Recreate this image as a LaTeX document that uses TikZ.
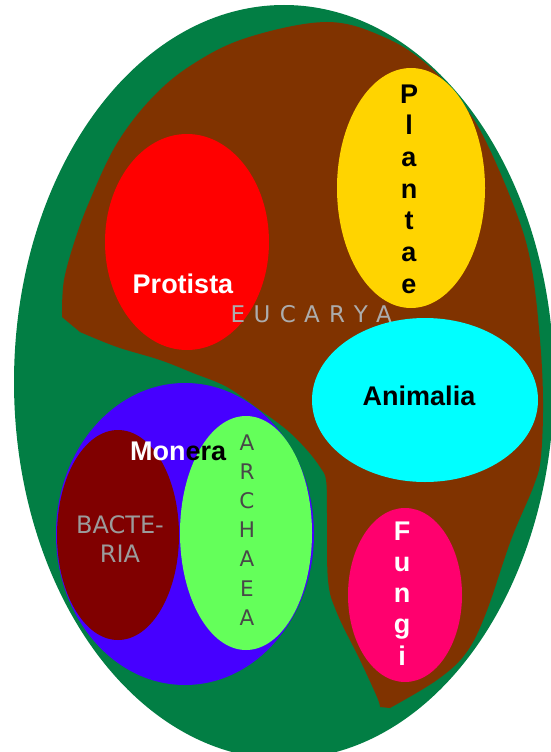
\documentclass[tikz,border=0pt]{standalone}
\usepackage{fontspec}
\setmainfont{Liberation Sans}
\newfontfamily\dvfont{DejaVu Sans}
\definecolor{cgreen}{RGB}{2,126,68}
\definecolor{cbrown}{RGB}{128,51,0}
\definecolor{cred}{RGB}{255,0,0}
\definecolor{cyellow}{RGB}{255,212,0}
\definecolor{ccyan}{RGB}{0,255,255}
\definecolor{cblue}{RGB}{70,0,255}
\definecolor{cdarkred}{RGB}{128,0,0}
\definecolor{clight}{RGB}{100,255,90}
\definecolor{cpink}{RGB}{255,0,110}
\definecolor{cgrayA}{RGB}{155,155,155}
\definecolor{cgrayB}{RGB}{72,72,72}
\definecolor{cgrayC}{RGB}{172,172,172}
\tikzset{
  boldlbl/.style={anchor=base, inner sep=0pt, font=\fontsize{27}{27}\selectfont\bfseries},
  thinlbl/.style={anchor=base, inner sep=0pt, font=\dvfont\fontsize{24}{24}\selectfont},
  archlbl/.style={anchor=base, inner sep=0pt, text=cgrayB, font=\dvfont\fontsize{21.5}{21.5}\selectfont},
  eulbl/.style={anchor=base, inner sep=0pt, text=cgrayC, font=\dvfont\fontsize{23}{23}\selectfont},
}
\begin{document}
\begin{tikzpicture}[x=1pt,y=-1pt]
\path[use as bounding box] (0,0) rectangle (551,752);
% green outer ellipse
\fill[cgreen] (284,382) ellipse [x radius=270, y radius=377];
% brown Eucarya region
\fill[cbrown] (62,313) -- plot[smooth, tension=0.6] coordinates {(62,313) (64,280) (75,240) (90,200) (116,145) (150,100) (190,66) (246,38) (327,22) (386,38) (430,67) (466,108) (490,150) (519,220) (532,270) (540,340) (543,400) (541,456) (534,485) (511,540) (486,613) (466,653) (437,680) (390,708)}
  -- (380,707) -- plot[smooth, tension=0.6] coordinates {(380,707) (377,697) (360,660) (337,613) (328,580) (327,513) (326,480) (320,467) (307,450) (287,430) (260,410) (227,387) (193,373) (160,360) (117,347) (80,332)} -- (62,317) -- cycle;
% kingdoms
\fill[cred] (187,242) ellipse [x radius=82, y radius=108];
\fill[cyellow] (411,188) ellipse [x radius=74, y radius=120];
\fill[ccyan] (425,400) ellipse [x radius=113, y radius=82];
\fill[cpink] (405,595) ellipse [x radius=57, y radius=87];
\fill[cblue] (185,534) ellipse [x radius=129, y radius=151];
\fill[cdarkred] (118,535) ellipse [x radius=61, y radius=105];
\fill[clight] (246,533) ellipse [x radius=66, y radius=117];
% labels
\node[boldlbl, text=white] (protista) at (183,293) {Protista};
\foreach \ch [count=\i from 0] in {P,l,a,n,t,a,e}
  \node[boldlbl, text=black] (pl\i) at (409,103+31.67*\i) {\ch};
\foreach \ch/\xx [count=\i from 0] in {E/238,U/262,C/288,A/312,R/337,Y/361,A/384}
  \node[eulbl] (eu\i) at (\xx,322) {\ch};
\node[boldlbl, text=black] (animalia) at (419,405) {Animalia};
\node[boldlbl, anchor=base west] (monera) at (130,460) {\textcolor{white}{Mon}\textcolor{black}{era}};
\node[thinlbl, text=cgrayA] (bact1) at (120,533) {BACTE-};
\node[thinlbl, text=cgrayA] (bact2) at (120,562) {RIA};
\foreach \ch [count=\i from 0] in {A,R,C,H,A,E,A}
  \node[archlbl] (ar\i) at (247,450+29.2*\i) {\ch};
\foreach \ch [count=\i from 0] in {F,u,n,g,i}
  \node[boldlbl, text=white] (fu\i) at (402,540+31.25*\i) {\ch};
\end{tikzpicture}
\end{document}
